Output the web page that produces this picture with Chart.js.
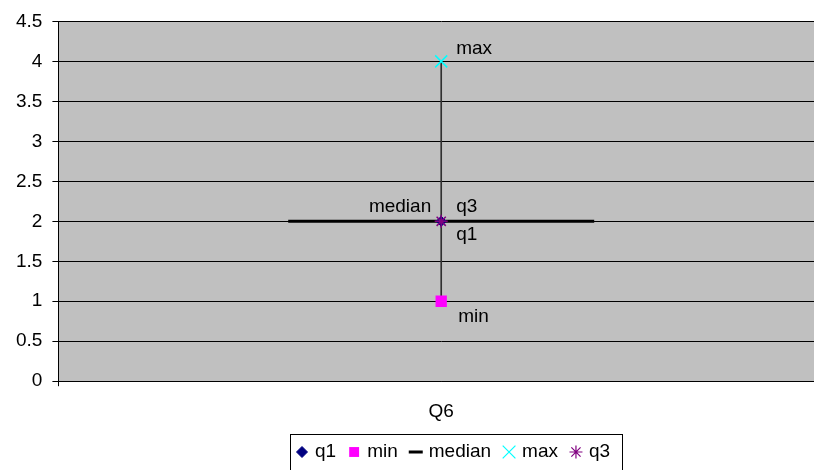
<!DOCTYPE html>
<html>
<head>
<meta charset="utf-8">
<script src="https://cdn.jsdelivr.net/npm/chart.js@4"></script>
<style>
  html, body { margin: 0; padding: 0; background: #fff; overflow: hidden; }
  #wrap { width: 824px; height: 470px; }
</style>
</head>
<body>
<div id="wrap"><canvas id="chart" width="824" height="470"></canvas></div>
<script>
const categories = ['Q6']
const q1Values = [2]
const minValues = [1]
const medianValues = [2]
const maxValues = [4]
const q3Values = [2]

const FONT = "'Liberation Sans', Arial, sans-serif"
Chart.defaults.font.family = FONT
Chart.defaults.font.size = 19
Chart.defaults.color = '#000'

// grey plot background
const plotBackground = {
  id: 'plotBackground',
  beforeDraw(chart) {
    const { ctx, chartArea: a } = chart
    ctx.save()
    ctx.fillStyle = '#c0c0c0'
    ctx.fillRect(a.left, a.top, a.right - a.left, a.bottom - a.top)
    ctx.restore()
  }
}

// text labels next to each point, taken from the dataset label
const pointLabels = {
  id: 'pointLabels',
  afterDatasetsDraw(chart, args, opts) {
    const { ctx } = chart
    ctx.save()
    ctx.font = '19px ' + FONT
    ctx.fillStyle = '#000'
    ctx.textBaseline = 'alphabetic'
    opts.items.forEach(item => {
      const ds = chart.data.datasets[item.dataset]
      chart.getDatasetMeta(item.dataset).data.forEach(pt => {
        ctx.textAlign = item.align
        ctx.fillText(ds.label, pt.x + item.dx, pt.y + item.dy)
      })
    })
    ctx.restore()
  }
}

// boxed legend below the axis, one item per marker series
const boxLegend = {
  id: 'boxLegend',
  afterDraw(chart, args, opts) {
    const { ctx } = chart
    ctx.save()
    ctx.font = '19px ' + FONT
    ctx.textBaseline = 'middle'
    ctx.textAlign = 'left'
    const y = opts.y
    let x = opts.x
    ctx.strokeStyle = '#000'
    ctx.lineWidth = 1
    ctx.strokeRect(opts.boxLeft + 0.5, opts.boxTop + 0.5, opts.boxWidth, 60)
    opts.items.forEach(i => {
      const ds = chart.data.datasets[i.dataset]
      ctx.fillStyle = ds.pointBackgroundColor
      ctx.strokeStyle = ds.pointBorderColor
      ctx.lineWidth = i.borderWidth
      Chart.helpers.drawPoint(ctx, { pointStyle: ds.pointStyle, radius: i.radius, borderWidth: i.borderWidth, rotation: 0 }, x, y)
      ctx.fillStyle = '#000'
      ctx.fillText(ds.label, x + 13, y)
      x += 13 + ctx.measureText(ds.label).width + 18
    })
    ctx.restore()
  }
}

const markerDefaults = { type: 'line', showLine: false, pointHoverRadius: 0 }

new Chart(document.getElementById('chart'), {
  data: {
    labels: categories,
    datasets: [
      { ...markerDefaults, label: 'q1', data: q1Values, pointStyle: 'rectRot', pointRadius: 5,
        pointBackgroundColor: '#000080', pointBorderColor: '#000080', pointBorderWidth: 1, order: 2 },
      { ...markerDefaults, label: 'min', data: minValues, pointStyle: 'rect', pointRadius: 8,
        pointBackgroundColor: '#ff00ff', pointBorderColor: '#ff00ff', pointBorderWidth: 0, order: 4 },
      { ...markerDefaults, label: 'median', data: medianValues, pointStyle: 'line', pointRadius: 153,
        pointBackgroundColor: '#000', pointBorderColor: '#000', pointBorderWidth: 3, order: 9 },
      { ...markerDefaults, label: 'max', data: maxValues, pointStyle: 'crossRot', pointRadius: 8.5,
        pointBackgroundColor: '#00ffff', pointBorderColor: '#00ffff', pointBorderWidth: 1.5, order: 3 },
      { ...markerDefaults, label: 'q3', data: q3Values, pointStyle: 'star', pointRadius: 6.5,
        pointBackgroundColor: '#800080', pointBorderColor: '#800080', pointBorderWidth: 1.5, order: 1 },
      { type: 'bar', label: 'range', data: minValues.map((v, i) => [v, maxValues[i]]),
        backgroundColor: '#303030', barThickness: 1, order: 10 }
    ]
  },
  options: {
    responsive: false,
    animation: false,
    events: [],
    layout: { autoPadding: false, padding: { top: 21, right: 0, left: 6, bottom: 33 } },
    scales: {
      x: {
        type: 'category',
        offset: true,
        grid: { display: true, drawOnChartArea: false, drawTicks: true, tickLength: 5, offset: true, color: '#000' },
        border: { display: true, color: '#000' },
        ticks: { padding: 14, font: { size: 19 }, color: '#000' }
      },
      y: {
        min: 0,
        max: 4.5,
        ticks: { stepSize: 0.5, padding: 10, font: { size: 19 }, color: '#000', autoSkip: false,
          callback: v => String(v) },
        grid: { color: '#000', lineWidth: 1, tickLength: 6 },
        border: { display: true, color: '#000' }
      }
    },
    plugins: {
      legend: { display: false },
      tooltip: { enabled: false },
      pointLabels: {
        items: [
          { dataset: 3, dx: 15, dy: -7, align: 'left' },
          { dataset: 2, dx: -10, dy: -9, align: 'right' },
          { dataset: 4, dx: 15, dy: -9, align: 'left' },
          { dataset: 0, dx: 15, dy: 19, align: 'left' },
          { dataset: 1, dx: 17, dy: 21, align: 'left' }
        ]
      },
      boxLegend: {
        x: 302, y: 452, boxLeft: 290, boxTop: 434, boxWidth: 332,
        items: [
          { dataset: 0, radius: 5.5, borderWidth: 1 },
          { dataset: 1, radius: 7, borderWidth: 0 },
          { dataset: 2, radius: 7, borderWidth: 3 },
          { dataset: 3, radius: 9, borderWidth: 1.2 },
          { dataset: 4, radius: 6.5, borderWidth: 1.2 }
        ]
      }
    }
  },
  plugins: [plotBackground, pointLabels, boxLegend]
})
</script>
</body>
</html>
